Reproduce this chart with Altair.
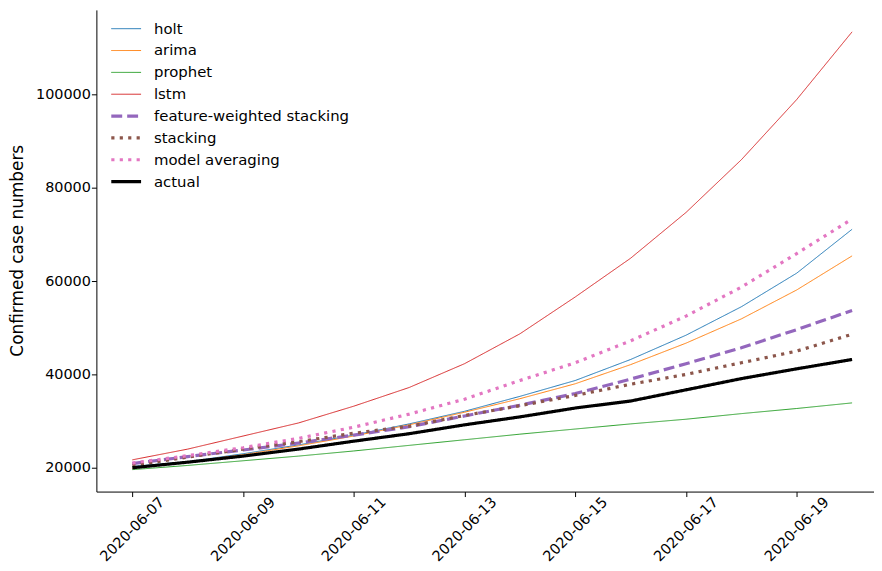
import altair as alt
import pandas as pd

dates = pd.date_range("2020-06-07", "2020-06-20").strftime("%Y-%m-%d").tolist()

series_names = ["holt", "arima", "prophet", "lstm", "feature-weighted stacking",
                "stacking", "model averaging", "actual"]

holt = [20300, 21300, 23000, 24900, 27000, 29400, 32100, 35300, 38700, 43200, 48400, 54500, 61700, 71100]
arima = [19900, 21200, 22800, 24700, 26800, 29200, 31900, 34800, 38000, 42100, 46700, 51900, 58100, 65400]
prophet = [19600, 20500, 21500, 22500, 23600, 24800, 26000, 27200, 28300, 29400, 30400, 31600, 32700, 33900]
lstm = [21700, 24000, 26800, 29600, 33200, 37200, 42300, 48700, 56600, 64900, 74700, 86000, 98900, 113400]
fws = [20900, 22400, 23800, 25300, 27000, 28800, 31100, 33400, 35900, 39000, 42300, 45700, 49600, 53700]
stacking = [20500, 22300, 24000, 25600, 27400, 28900, 31200, 33300, 35500, 37900, 40000, 42500, 45000, 48600]
model_avg = [21000, 22600, 24300, 26300, 28700, 31500, 34700, 38700, 42500, 47200, 52500, 58700, 65900, 73300]
actual = [20000, 21200, 22500, 24000, 25700, 27300, 29200, 30900, 32800, 34300, 36700, 39100, 41200, 43200]

values = [holt, arima, prophet, lstm, fws, stacking, model_avg, actual]

colors = ["#1f77b4", "#ff7f0e", "#2ca02c", "#d62728", "#9467bd", "#8c564b", "#e377c2", "#000000"]
widths = [1, 1, 1, 1, 3.2, 3.2, 3.2, 3.2]
dashes = [[1, 0], [1, 0], [1, 0], [1, 0], [11, 5], [3.2, 5.3], [3.2, 5.3], [1, 0]]

rows = []
for i, (name, vals) in enumerate(zip(series_names, values)):
    for d, v in zip(dates, vals):
        rows.append({"date": d, "value": v, "model": name, "ord": i})
df = pd.DataFrame(rows)

tick_dates = [alt.DateTime(year=2020, month=6, date=d, utc=True) for d in [7, 9, 11, 13, 15, 17, 19]]

legend = alt.Legend(
    title=None, orient="none", legendX=13, legendY=8,
    symbolType="stroke", symbolSize=900, labelFontSize=15, labelFont="DejaVu Sans",
    labelColor="#000000", rowPadding=0, clipHeight=21.8, labelOffset=11, labelLimit=400,
)

chart = alt.Chart(df).mark_line(strokeCap="butt").encode(
    x=alt.X("date:T",
            scale=alt.Scale(type="utc",
                            domain=[alt.DateTime(year=2020, month=6, date=6, hours=8, minutes=24, utc=True),
                                    alt.DateTime(year=2020, month=6, date=20, hours=9, minutes=30, utc=True)]),
            axis=alt.Axis(values=tick_dates, labelExpr="utcFormat(datum.value, '%Y-%m-%d')",
                          labelAngle=-45, labelAlign="center", labelBaseline="middle",
                          title=None, grid=False,
                          labelFontSize=14.5, labelFont="DejaVu Sans", labelColor="#000000",
                          domainColor="#000000", tickColor="#000000", tickSize=5, labelPadding=33)),
    y=alt.Y("value:Q",
            scale=alt.Scale(domain=[14900, 118100], nice=False, zero=False),
            axis=alt.Axis(values=[20000, 40000, 60000, 80000, 100000], format="d",
                          title="Confirmed case numbers", titleFontSize=17, titleFont="DejaVu Sans",
                          titleFontWeight="normal", titleColor="#000000",
                          titleX=-70, titleY=242, titleAngle=-90, titleAlign="center", titleBaseline="bottom",
                          labelFontSize=14.5, labelFont="DejaVu Sans", labelColor="#000000",
                          labelPadding=1,
                          grid=False, domainColor="#000000", tickColor="#000000", tickSize=5)),
    color=alt.Color("model:N", scale=alt.Scale(domain=series_names, range=colors), legend=legend),
    strokeWidth=alt.StrokeWidth("model:N", scale=alt.Scale(type="ordinal", domain=series_names, range=widths), legend=legend),
    strokeDash=alt.StrokeDash("model:N", scale=alt.Scale(domain=series_names, range=dashes), legend=legend),
    order=alt.Order("ord:Q"),
).properties(
    width=783, height=485,
    autosize=alt.AutoSizeParams(type="none"),
    padding={"left": 89, "top": 0, "right": 0, "bottom": 70},
).configure_view(stroke=None)

chart.save("out.html", embed_options={"renderer": "svg", "actions": False})
